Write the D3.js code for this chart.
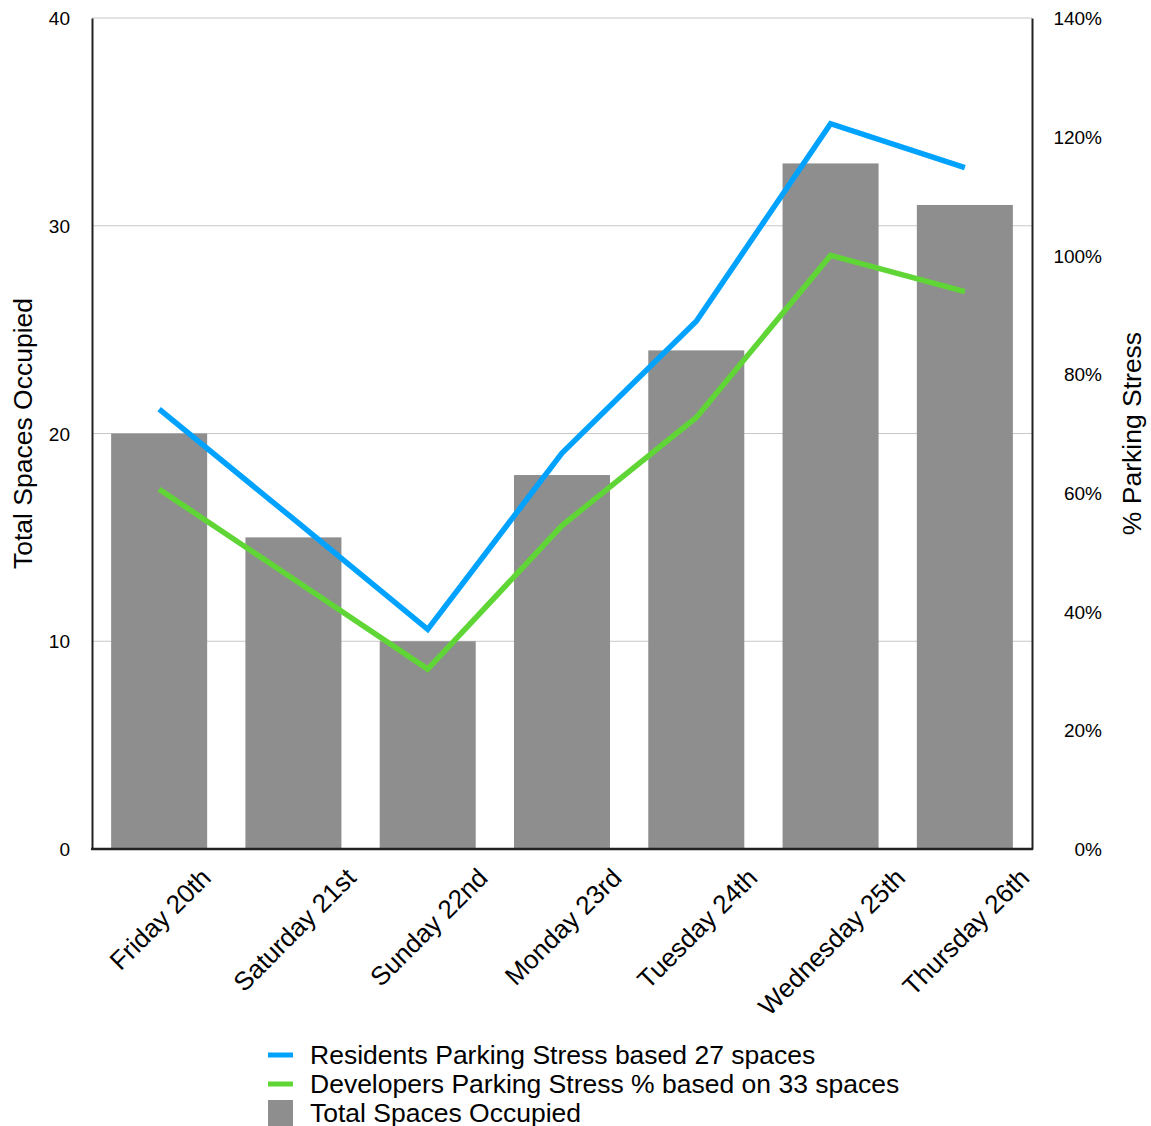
<!DOCTYPE html>
<html>
<head>
<meta charset="utf-8">
<script src="https://cdn.jsdelivr.net/npm/d3@7"></script>
<style>
  body { margin: 0; background: #fff; }
  text { font-family: "Liberation Sans", Arial, sans-serif; fill: #000; }
</style>
</head>
<body>
<div id="chart"></div>
<script>
var days = ["Friday 20th", "Saturday 21st", "Sunday 22nd", "Monday 23rd", "Tuesday 24th", "Wednesday 25th", "Thursday 26th"];
var occupied = [20, 15, 10, 18, 24, 33, 31];
var residentsStress = [74.1, 55.6, 37.0, 66.7, 88.9, 122.2, 114.8];
var developersStress = [60.6, 45.5, 30.3, 54.5, 72.7, 100.0, 93.9];
var leftTicks = [0, 10, 20, 30, 40];
var rightTicks = [0, 20, 40, 60, 80, 100, 120, 140];
var legendNames = ["Residents Parking Stress based 27 spaces", "Developers Parking Stress % based on 33 spaces", "Total Spaces Occupied"];

var svgWidth = 1151;
var svgHeight = 1126;
var margin = { top: 18, right: 119, bottom: 277, left: 92 };
var width = svgWidth - margin.left - margin.right;
var height = svgHeight - margin.top - margin.bottom;

var blue = "#00a2ff";
var green = "#5fd635";
var gray = "#8e8e8e";

var svg = d3.select("#chart")
    .append("svg")
    .attr("width", svgWidth)
    .attr("height", svgHeight);

var chartGroup = svg.append("g")
    .attr("transform", `translate(${margin.left}, ${margin.top})`);

var xScale = d3.scaleBand()
    .domain(days)
    .range([0, width])
    .paddingInner(0.285)
    .paddingOuter(0.142);

var xCenter = d3.scalePoint()
    .domain(days)
    .range([0, width])
    .padding(0.5);

var yLeft = d3.scaleLinear().domain([0, 40]).range([height, 0]);
var yRight = d3.scaleLinear().domain([0, 140]).range([height, 0]);

// gridlines
chartGroup.append("g")
    .selectAll("line")
    .data(leftTicks.slice(1))
    .enter()
    .append("line")
    .attr("x1", 0)
    .attr("x2", width)
    .attr("y1", d => yLeft(d))
    .attr("y2", d => yLeft(d))
    .attr("stroke", "#c8c8c8")
    .attr("stroke-width", 1);

// bars
chartGroup.append("g")
    .selectAll("rect")
    .data(occupied)
    .enter()
    .append("rect")
    .attr("x", (d, i) => xCenter(days[i]) - xScale.bandwidth() / 2)
    .attr("y", d => yLeft(d))
    .attr("width", xScale.bandwidth())
    .attr("height", d => height - yLeft(d))
    .attr("fill", gray);

// lines
var line = d3.line()
    .x((d, i) => xCenter(days[i]))
    .y(d => yRight(d));

chartGroup.append("path")
    .datum(developersStress)
    .attr("d", line)
    .attr("fill", "none")
    .attr("stroke", green)
    .attr("stroke-width", 5.5)
    .attr("stroke-linejoin", "miter");

chartGroup.append("path")
    .datum(residentsStress)
    .attr("d", line)
    .attr("fill", "none")
    .attr("stroke", blue)
    .attr("stroke-width", 5.5)
    .attr("stroke-linejoin", "miter");

// axes
var leftAxis = d3.axisLeft(yLeft).tickValues(leftTicks).tickSize(0).tickPadding(22);
var rightAxis = d3.axisRight(yRight).tickValues(rightTicks).tickSize(0)
    .tickFormat(d => d + "%");

var gl = chartGroup.append("g").call(leftAxis);
gl.select(".domain").attr("stroke", "#222").attr("stroke-width", 2);
gl.selectAll("text").style("font-size", "19px").attr("dy", "0.35em");

var gr = chartGroup.append("g")
    .attr("transform", `translate(${width}, 0)`)
    .call(rightAxis);
gr.select(".domain").attr("stroke", "#222").attr("stroke-width", 2);
gr.selectAll("text")
    .style("font-size", "19px")
    .attr("text-anchor", "end")
    .attr("x", 70)
    .attr("dy", "0.35em");

chartGroup.append("line")
    .attr("x1", -1).attr("x2", width + 1)
    .attr("y1", height).attr("y2", height)
    .attr("stroke", "#222").attr("stroke-width", 2.5);

// category labels, rotated
var labels = chartGroup.append("g")
    .selectAll("text")
    .data(days)
    .enter()
    .append("text")
    .text(d => d)
    .style("font-size", "26px")
    .attr("text-anchor", "middle");

labels.each(function (d) {
    var len = this.getComputedTextLength();
    var cx = xCenter(d) + 1;
    var cy = height + 24 + (len / 2) * Math.SQRT1_2;
    d3.select(this).attr("transform", `translate(${cx}, ${cy}) rotate(-45)`)
        .attr("dy", "0.35em");
});

// axis titles
svg.append("text")
    .attr("transform", `translate(32, ${margin.top + height / 2}) rotate(-90)`)
    .attr("text-anchor", "middle")
    .style("font-size", "26.5px")
    .text("Total Spaces Occupied");

svg.append("text")
    .attr("transform", `translate(1141, ${margin.top + height / 2}) rotate(-90)`)
    .attr("text-anchor", "middle")
    .style("font-size", "26.5px")
    .text("% Parking Stress");

// legend
var legend = svg.append("g").attr("transform", "translate(268, 1055)");
var colors = [blue, green, gray];
legendNames.forEach(function (name, i) {
    var row = legend.append("g").attr("transform", `translate(0, ${i * 29})`);
    if (i < 2) {
        row.append("line")
            .attr("x1", 0).attr("x2", 25)
            .attr("y1", 0).attr("y2", 0)
            .attr("stroke", colors[i])
            .attr("stroke-width", 5);
    } else {
        row.append("rect")
            .attr("x", 0).attr("y", -13)
            .attr("width", 25).attr("height", 26)
            .attr("fill", colors[i]);
    }
    row.append("text")
        .attr("x", 42)
        .attr("y", 0)
        .attr("dy", "0.35em")
        .style("font-size", "26.5px")
        .text(name);
});
</script>
</body>
</html>
